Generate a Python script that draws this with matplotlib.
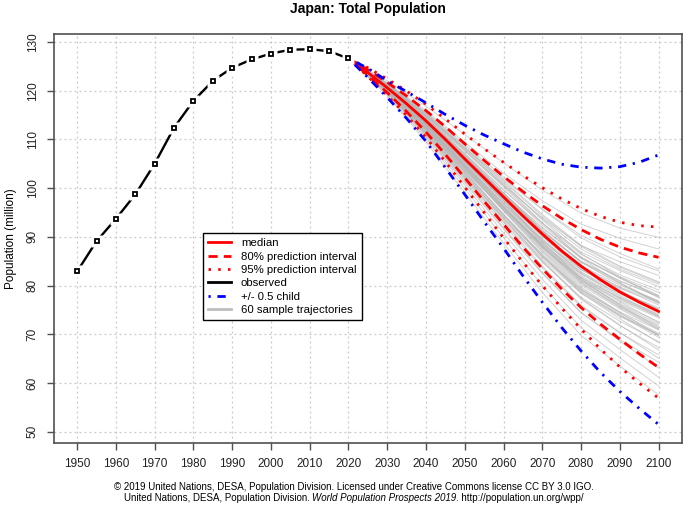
import numpy as np
import matplotlib.pyplot as plt

plt.rcParams['font.family'] = ['Liberation Sans', 'DejaVu Sans']

# observed population (million)
obs_years = [1950, 1955, 1960, 1965, 1970, 1975, 1980, 1985, 1990, 1995,
             2000, 2005, 2010, 2015, 2020]
obs_pop = [82.9, 89.1, 93.7, 98.7, 105.0, 112.4, 117.9, 122.0, 124.7, 126.4,
           127.6, 128.4, 128.5, 128.1, 126.6]

# projections, 2020-2100 every 5 years
proj_years = list(range(2020, 2101, 5))
median = [126.6, 123.7, 120.6, 117.3, 113.8, 110.0, 106.0, 102.1, 98.2,
          94.3, 90.6, 87.1, 84.0, 81.2, 78.7, 76.6, 74.7]
upper80 = [126.6, 124.3, 121.7, 118.9, 115.9, 112.6, 109.1, 105.7, 102.4,
           99.3, 96.4, 93.8, 91.5, 89.5, 87.9, 86.7, 85.8]
lower80 = [126.6, 123.2, 119.6, 115.7, 111.5, 106.9, 102.1, 97.3, 92.6,
           87.9, 83.5, 79.3, 75.5, 72.1, 69.0, 66.0, 63.2]
upper95 = [126.6, 124.7, 122.4, 119.9, 117.2, 114.2, 111.1, 108.1, 105.3,
           102.6, 100.1, 97.8, 95.8, 94.2, 93.0, 92.3, 92.0]
lower95 = [126.6, 122.9, 119.0, 114.9, 110.4, 105.4, 100.2, 95.0, 89.8,
           84.8, 80.0, 75.4, 71.1, 67.0, 63.3, 60.0, 56.9]
half_child_hi = [126.6, 124.6, 122.0, 119.8, 117.5, 115.1, 112.9, 110.9, 109.1,
                 107.4, 106.0, 104.9, 104.3, 104.1, 104.4, 105.3, 106.8]
half_child_lo = [126.6, 122.7, 118.6, 114.3, 109.6, 104.2, 98.7, 93.1, 87.7,
                 82.0, 76.6, 71.4, 66.6, 62.2, 58.3, 54.8, 51.5]

# 60 sample trajectories, 2020-2100 every 10 years
traj_years = list(range(2020, 2101, 10))
trajectories = [
    [126.6, 122.0, 116.8, 111.0, 105.2, 99.6, 94.9, 91.8, 89.9],
    [126.6, 121.6, 115.9, 109.4, 103.1, 97.4, 92.6, 89.7, 87.5],
    [126.6, 121.3, 115.0, 108.2, 101.8, 95.7, 90.3, 86.6, 83.4],
    [126.6, 121.1, 114.7, 107.6, 100.5, 93.9, 88.2, 84.9, 82.1],
    [126.6, 120.9, 114.3, 106.9, 99.6, 92.8, 86.9, 83.1, 79.8],
    [126.6, 120.8, 114.0, 106.5, 99.0, 91.9, 85.7, 81.6, 78.0],
    [126.6, 120.7, 113.8, 106.1, 98.6, 91.2, 84.8, 80.5, 76.7],
    [126.6, 120.6, 113.5, 105.7, 97.9, 90.2, 83.5, 79.0, 75.1],
    [126.6, 120.5, 113.2, 105.3, 97.4, 89.6, 82.7, 78.0, 73.9],
    [126.6, 120.4, 112.9, 104.8, 96.7, 88.7, 81.6, 76.7, 72.4],
    [126.6, 120.3, 112.7, 104.4, 96.1, 88.0, 80.8, 75.8, 71.3],
    [126.6, 120.2, 112.4, 103.9, 95.4, 87.1, 79.7, 74.5, 69.8],
    [126.6, 120.1, 112.1, 103.4, 94.7, 86.1, 78.5, 73.2, 68.3],
    [126.6, 120.0, 111.8, 102.9, 93.9, 85.2, 77.4, 71.9, 66.8],
    [126.6, 119.8, 111.4, 102.2, 93.0, 84.0, 76.0, 70.4, 65.1],
    [126.6, 119.6, 110.9, 101.4, 91.9, 82.7, 74.5, 68.6, 63.1],
    [126.6, 119.4, 110.4, 100.6, 90.8, 81.3, 72.9, 66.9, 61.2],
    [126.6, 119.2, 110.0, 99.9, 89.8, 80.0, 71.4, 65.2, 59.4],
    [126.6, 119.0, 109.5, 99.1, 88.7, 78.6, 69.8, 63.5, 57.6],
    [126.6, 121.0, 114.8, 107.9, 100.6, 92.9, 85.6, 80.6, 76.3],
    [126.6, 120.2, 112.0, 103.6, 95.8, 88.6, 82.4, 78.3, 74.9],
    [126.6, 121.2, 114.6, 107.0, 99.1, 91.0, 83.9, 79.1, 74.6],
    [126.6, 120.5, 113.6, 106.0, 98.4, 91.1, 84.9, 81.0, 77.8],
    [126.6, 120.8, 113.3, 105.0, 96.8, 89.2, 82.8, 78.6, 75.2],
    [126.6, 120.1, 112.5, 104.6, 96.9, 89.5, 83.2, 79.4, 76.5],
    [126.6, 121.4, 115.3, 108.4, 101.0, 93.5, 86.6, 81.8, 77.5],
    [126.6, 120.6, 113.0, 104.5, 95.9, 87.6, 80.4, 75.6, 71.8],
    [126.6, 120.3, 113.1, 105.5, 97.8, 90.4, 84.1, 80.1, 76.9],
    [126.6, 120.9, 113.9, 105.9, 97.5, 89.0, 81.3, 76.0, 71.5],
    [126.6, 120.0, 111.6, 102.7, 94.1, 86.0, 79.1, 74.6, 70.9],
    [126.6, 121.0, 114.4, 106.8, 98.9, 91.3, 84.8, 80.4, 76.5],
    [126.6, 120.4, 112.6, 104.0, 95.5, 87.3, 80.1, 75.2, 71.0],
    [126.6, 120.7, 113.4, 105.2, 96.9, 88.9, 82.0, 77.4, 73.6],
    [126.6, 119.9, 111.3, 102.4, 93.7, 85.5, 78.4, 73.7, 69.9],
    [126.6, 121.2, 115.1, 108.0, 100.8, 93.7, 87.5, 83.4, 80.3],
    [126.6, 120.6, 113.7, 106.2, 98.9, 91.8, 85.7, 81.8, 78.6],
    [126.6, 120.3, 112.3, 103.4, 94.6, 86.4, 79.2, 74.1, 69.7],
    [126.6, 120.8, 113.6, 105.6, 97.3, 89.3, 82.4, 77.7, 73.8],
    [126.6, 119.7, 111.0, 102.0, 93.2, 84.8, 77.6, 72.7, 68.5],
    [126.6, 121.3, 115.4, 108.7, 101.6, 94.6, 88.3, 84.0, 80.8],
    [126.6, 120.5, 112.8, 104.2, 95.3, 86.8, 79.4, 74.4, 70.2],
    [126.6, 120.1, 112.2, 103.8, 95.6, 87.8, 81.2, 76.9, 73.4],
    [126.6, 120.9, 114.1, 106.4, 98.3, 90.6, 83.9, 79.6, 76.0],
    [126.6, 119.9, 111.5, 102.6, 93.6, 85.0, 77.2, 71.8, 67.3],
    [126.6, 120.7, 113.1, 104.7, 96.3, 88.2, 81.0, 76.1, 72.1],
    [126.6, 121.1, 114.5, 107.2, 99.7, 92.4, 85.9, 81.5, 77.9],
    [126.6, 120.2, 112.4, 104.1, 95.9, 88.1, 81.5, 77.2, 73.7],
    [126.6, 120.6, 113.2, 104.9, 96.4, 88.3, 81.1, 76.3, 72.6],
    [126.6, 119.8, 111.1, 101.8, 92.5, 83.6, 75.7, 70.3, 65.8],
    [126.6, 121.5, 115.6, 109.0, 102.2, 95.6, 89.8, 85.9, 83.0],
    [126.6, 120.4, 112.9, 104.6, 96.2, 88.4, 81.7, 77.5, 74.2],
    [126.6, 120.0, 112.0, 103.3, 94.5, 86.2, 78.9, 73.8, 69.4],
    [126.6, 121.0, 114.2, 106.6, 98.8, 91.4, 85.0, 80.9, 77.7],
    [126.6, 120.3, 112.6, 104.3, 96.0, 87.9, 80.6, 75.5, 71.1],
    [126.6, 119.6, 110.7, 101.1, 91.6, 82.5, 74.4, 68.9, 64.3],
    [126.6, 120.8, 113.8, 106.0, 98.0, 90.2, 83.3, 78.8, 75.4],
    [126.6, 121.2, 114.9, 107.7, 100.2, 92.8, 86.4, 82.2, 79.1],
    [126.6, 120.5, 113.3, 105.4, 97.6, 90.0, 83.6, 79.7, 76.8],
    [126.6, 120.1, 111.9, 103.1, 94.3, 85.9, 78.7, 73.9, 70.0],
    [126.6, 121.4, 115.2, 108.3, 101.3, 94.3, 88.0, 83.8, 80.6],
]

xticks = list(range(1950, 2101, 10))
yticks = list(range(50, 131, 10))

fig = plt.figure(figsize=(7, 5.13), dpi=100)
ax = fig.add_axes([0.077, 0.1365, 0.897, 0.797])

for tr in trajectories:
    ax.plot(traj_years, tr, color='#b4b4b4', lw=0.7, alpha=0.6, zorder=2)

ax.plot(proj_years, median, color='red', lw=2, zorder=4, label='median')
ax.plot(proj_years, upper80, color='red', lw=2, dashes=(3.3, 2.2), zorder=4,
        label='80% prediction interval')
ax.plot(proj_years, lower80, color='red', lw=2, dashes=(3.3, 2.2), zorder=4)
ax.plot(proj_years, upper95, color='red', lw=2, dashes=(0.9, 2.6), zorder=4,
        label='95% prediction interval')
ax.plot(proj_years, lower95, color='red', lw=2, dashes=(0.9, 2.6), zorder=4)

# observed: lines with gaps around the points (R type='b')
ax.plot(obs_years, obs_pop, color='black', lw=1.7, zorder=5)
ax.plot(obs_years, obs_pop, ls='none', marker='s', ms=8, mfc='white',
        mec='none', zorder=6)
ax.plot(obs_years, obs_pop, ls='none', marker='s', ms=3.4, mfc='white',
        mec='black', mew=1.3, zorder=7)
ax.plot([], [], color='black', lw=2, label='observed')

ax.plot(proj_years, half_child_hi, color='blue', lw=2,
        dashes=(0.8, 2.4, 3, 2.4), zorder=4, label='+/- 0.5 child')
ax.plot(proj_years, half_child_lo, color='blue', lw=2,
        dashes=(0.8, 2.4, 3, 2.4), zorder=4)
ax.plot([], [], color='#bebebe', lw=2, label='60 sample trajectories')

ax.set_xlim(1944, 2106)
ax.set_ylim(47.7, 131.6)
ax.set_xticks(xticks)
ax.set_yticks(yticks)
ax.set_yticklabels([str(v) for v in yticks], rotation=90, va='center')
ax.grid(True, color='#c8c8c8', ls=(0, (1.5, 2.5)), lw=0.9, zorder=0)
ax.set_axisbelow(True)
for s in ax.spines.values():
    s.set_color('#505050')
    s.set_linewidth(1.2)
ax.tick_params(direction='out', length=5, width=1, colors='#505050',
               labelcolor='#222222', labelsize=8.5, pad=6)

ax.set_ylabel('Population (million)', fontsize=8.5, labelpad=7)
ax.set_title('Japan: Total Population', fontsize=10, fontweight='bold', pad=15)

leg = ax.legend(loc='lower left', bbox_to_anchor=(0.237, 0.30), fontsize=8.2,
                frameon=True, fancybox=False, framealpha=1, borderpad=0.45,
                borderaxespad=0, labelspacing=0.3, handlelength=2.0,
                handletextpad=0.9)
leg.get_frame().set_edgecolor('black')
leg.get_frame().set_linewidth(1)

# footer
fs = 7
fig.text(0.505, 1 - 487 / 513,
         '\u00a9 2019 United Nations, DESA, Population Division. Licensed under '
         'Creative Commons license CC BY 3.0 IGO.',
         ha='center', va='center', fontsize=fs)

parts = [('United Nations, DESA, Population Division.', 'normal'),
         ('World Population Prospects 2019', 'italic'),
         ('. http://population.un.org/wpp/', 'normal')]
y2 = 1 - 498 / 513
texts = [fig.text(0, y2, p, style=st, ha='left', va='center', fontsize=fs)
         for p, st in parts]
fig.canvas.draw()
r = fig.canvas.get_renderer()
widths = [t.get_window_extent(r).width for t in texts]
gaps = [2.2, 0]
total = sum(widths) + sum(gaps)
x = 0.505 * fig.bbox.width - total / 2
for i, t in enumerate(texts):
    t.set_x(x / fig.bbox.width)
    x += widths[i] + (gaps[i] if i < len(gaps) else 0)

fig.savefig('out.png', dpi=100)
